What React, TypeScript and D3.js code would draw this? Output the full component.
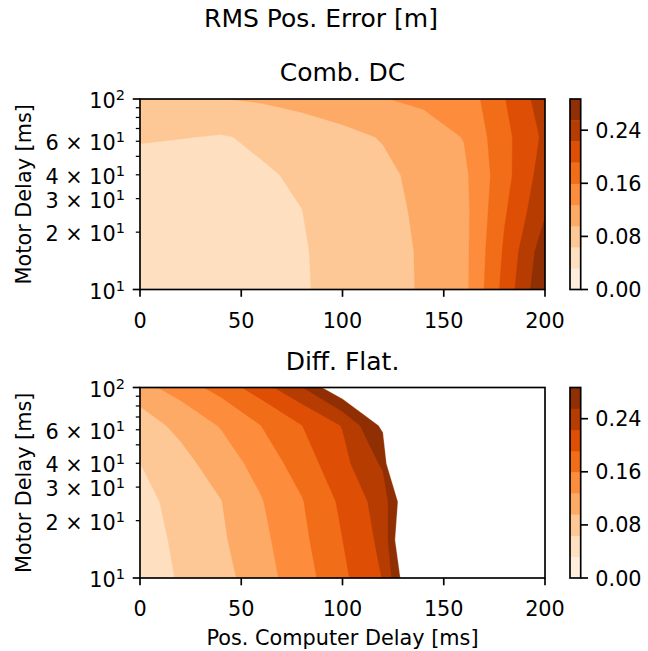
import React from 'react';
import * as d3 from 'd3';

// ---------- data ----------
const posDelays = [0, 20, 40, 60, 80, 100, 120, 140, 160, 180, 200];
const motorDelays = [10, 15.85, 25.12, 39.81, 63.1, 100];

// rows: motor delay 10 -> 100, columns: pos. computer delay 0 -> 200
const combDC = [
  [0.042, 0.045, 0.05, 0.057, 0.062, 0.07, 0.08, 0.1, 0.118, 0.202, 0.285],
  [0.043, 0.045, 0.05, 0.058, 0.062, 0.072, 0.082, 0.1, 0.118, 0.196, 0.275],
  [0.045, 0.045, 0.05, 0.059, 0.0635, 0.075, 0.085, 0.102, 0.118, 0.188, 0.252],
  [0.048, 0.045, 0.05, 0.0615, 0.0665, 0.08, 0.09, 0.103, 0.121, 0.18, 0.24],
  [0.068, 0.065, 0.062, 0.068, 0.078, 0.088, 0.0975, 0.11, 0.129, 0.182, 0.23],
  [0.085, 0.09, 0.095, 0.1, 0.108, 0.116, 0.126, 0.136, 0.139, 0.19, 0.241],
];

const diffFlat = [
  [0.045, 0.067, 0.084, 0.115, 0.145, 0.1846, 0.2246, 0.37, 0.52, 0.68, 0.85],
  [0.0495, 0.0702, 0.0909, 0.1197, 0.1521, 0.1912, 0.2322, 0.415, 0.58, 0.75, 0.92],
  [0.0539, 0.0743, 0.0948, 0.1258, 0.1576, 0.1979, 0.2387, 0.37, 0.55, 0.72, 0.9],
  [0.0635, 0.0855, 0.1104, 0.1401, 0.1748, 0.2138, 0.26, 0.57, 0.7, 0.85, 1.0],
  [0.0795, 0.1045, 0.13, 0.1598, 0.191, 0.225, 0.2945, 0.45, 0.62, 0.8, 0.98],
  [0.1157, 0.1427, 0.172, 0.2095, 0.254, 0.32, 0.42, 0.55, 0.7, 0.86, 1.05],
];

const levelMax = 0.287;
const nLevels = 10;
const cbarTicks = [0, 0.08, 0.16, 0.24];
const xTicks = [0, 50, 100, 150, 200];
const yMajor = [10, 100];
const yMinor = [20, 30, 40, 50, 60, 70, 80, 90];
const yMinorLabels: Record<number, string> = { 20: '2', 30: '3', 40: '4', 60: '6' };

const orangesStops = ['#fff5eb', '#fee6ce', '#fdd0a2', '#fdae6b', '#fd8d3c', '#f16913', '#d94801', '#a63603', '#7f2704'];

// ---------- layout ----------
const W = 648;
const H = 651;
const AX_L = 140;
const AX_R = 545;
const CB_L = 570;
const CB_R = 580.7;
const LW = 1.67;
const MAJ = 7.3;
const MIN = 4.2;
const FS = 20.8;
const TFS = 25;
const FONT = 'DejaVu Sans, sans-serif';

const levels = d3.range(nLevels).map((i) => (i * levelMax) / (nLevels - 1));
const cmap = d3
  .scaleLinear<string>()
  .domain(orangesStops.map((_, i) => i / (orangesStops.length - 1)))
  .range(orangesStops)
  .interpolate(d3.interpolateRgb)
  .clamp(true);
const bandColors = d3.range(nLevels - 1).map((k) => cmap((k + 0.5) / (nLevels - 1)));

function idxToVal(arr: number[], t: number) {
  const n = arr.length;
  const c = Math.max(0, Math.min(n - 1, t));
  const i0 = Math.min(n - 2, Math.floor(c));
  const f = c - i0;
  return arr[i0] + f * (arr[i0 + 1] - arr[i0]);
}

type Panel = { title: string; grid: number[][]; top: number; bottom: number; xlabel: boolean };

function ContourPanel({ p, id }: { p: Panel; id: string }) {
  const x = d3.scaleLinear().domain([0, 200]).range([AX_L, AX_R]);
  const y = d3.scaleLog().domain([10, 100]).range([p.bottom, p.top]);
  const nx = posDelays.length;
  const ny = motorDelays.length;
  const flat: number[] = [];
  p.grid.forEach((row) => row.forEach((v) => flat.push(v)));
  const gen = d3.contours().size([nx, ny]).thresholds(levels);
  const mapPt = (pt: number[]) => {
    const xv = idxToVal(posDelays, pt[0] - 0.5);
    const yv = idxToVal(motorDelays, pt[1] - 0.5);
    return [x(xv), y(yv)];
  };
  const toPath = (geom: d3.ContourMultiPolygon) =>
    geom.coordinates
      .map((poly) =>
        poly
          .map((ring) => 'M' + ring.map((pt) => mapPt(pt).map((v) => v.toFixed(2)).join(',')).join('L') + 'Z')
          .join('')
      )
      .join('');
  const polys = levels.map((lv) => gen.contour(flat, lv));
  const cy = d3.scaleLinear().domain([0, levelMax]).range([p.bottom, p.top]);
  const clipId = `clip-${id}`;
  return (
    <g>
      <defs>
        <clipPath id={clipId}>
          <rect x={AX_L} y={p.top} width={AX_R - AX_L} height={p.bottom - p.top} />
        </clipPath>
      </defs>
      <g clipPath={`url(#${clipId})`}>
        {polys.slice(0, nLevels - 1).map((g, k) => (
          <path key={k} d={toPath(g)} fill={bandColors[k]} fillRule="evenodd" stroke={bandColors[k]} strokeWidth={0.3} />
        ))}
        <path d={toPath(polys[nLevels - 1])} fill="#ffffff" fillRule="evenodd" stroke="#ffffff" strokeWidth={0.3} />
      </g>
      {/* spines */}
      <rect x={AX_L} y={p.top} width={AX_R - AX_L} height={p.bottom - p.top} fill="none" stroke="#000" strokeWidth={LW} />
      {/* x ticks */}
      {xTicks.map((t) => (
        <g key={t}>
          <line x1={x(t)} x2={x(t)} y1={p.bottom} y2={p.bottom + MAJ} stroke="#000" strokeWidth={LW} />
          <text x={x(t)} y={p.bottom + 38} textAnchor="middle" fontSize={FS} fontFamily={FONT}>
            {t}
          </text>
        </g>
      ))}
      {/* y ticks */}
      {yMajor.map((t) => (
        <g key={t}>
          <line x1={AX_L} x2={AX_L - MAJ} y1={y(t)} y2={y(t)} stroke="#000" strokeWidth={LW} />
          <text x={AX_L - 15} y={y(t) + 9} textAnchor="end" fontSize={FS} fontFamily={FONT}>
            <tspan>10</tspan>
            <tspan dy={-8} fontSize={14.5}>{t === 10 ? '1' : '2'}</tspan>
          </text>
        </g>
      ))}
      {yMinor.map((t) => (
        <g key={t}>
          <line x1={AX_L} x2={AX_L - MIN} y1={y(t)} y2={y(t)} stroke="#000" strokeWidth={LW * 0.75} />
          {yMinorLabels[t] ? (
            <text x={AX_L - 15} y={y(t) + 9} textAnchor="end" fontSize={FS} fontFamily={FONT}>
              <tspan>{`${yMinorLabels[t]} × 10`}</tspan>
              <tspan dy={-8} fontSize={14.5}>1</tspan>
            </text>
          ) : null}
        </g>
      ))}
      <text x={(AX_L + AX_R) / 2} y={p.top - 18} textAnchor="middle" fontSize={TFS} fontFamily={FONT}>
        {p.title}
      </text>
      <text
        transform={`translate(31,${(p.top + p.bottom) / 2}) rotate(-90)`}
        textAnchor="middle"
        fontSize={FS}
        fontFamily={FONT}
      >
        Motor Delay [ms]
      </text>
      {p.xlabel ? (
        <text x={(AX_L + AX_R) / 2} y={645} textAnchor="middle" fontSize={FS} fontFamily={FONT}>
          Pos. Computer Delay [ms]
        </text>
      ) : null}
      {/* colorbar */}
      {bandColors.map((c, k) => (
        <rect
          key={k}
          x={CB_L}
          y={cy(levels[k + 1])}
          width={CB_R - CB_L}
          height={cy(levels[k]) - cy(levels[k + 1]) + 0.3}
          fill={c}
        />
      ))}
      <rect x={CB_L} y={p.top} width={CB_R - CB_L} height={p.bottom - p.top} fill="none" stroke="#000" strokeWidth={LW} />
      {cbarTicks.map((t) => (
        <g key={t}>
          <line x1={CB_R} x2={CB_R + MAJ} y1={cy(t)} y2={cy(t)} stroke="#000" strokeWidth={LW} />
          <text x={CB_R + 14.6} y={cy(t) + 7.5} textAnchor="start" fontSize={FS} fontFamily={FONT}>
            {t.toFixed(2)}
          </text>
        </g>
      ))}
    </g>
  );
}

const panels: Panel[] = [
  { title: 'Comb. DC', grid: combDC, top: 99, bottom: 289.5, xlabel: false },
  { title: 'Diff. Flat.', grid: diffFlat, top: 387.5, bottom: 578, xlabel: true },
];

export default function App() {
  return (
    <svg
      width={W}
      height={H}
      viewBox={`0 0 ${W} ${H}`}
      style={{ position: 'absolute', left: 0, top: 0, background: '#fff' }}
    >
      <rect x={0} y={0} width={W} height={H} fill="#fff" />
      <text x={321} y={27} textAnchor="middle" fontSize={TFS} fontFamily={FONT}>
        RMS Pos. Error [m]
      </text>
      {panels.map((p, i) => (
        <ContourPanel key={i} p={p} id={`p${i}`} />
      ))}
    </svg>
  );
}
